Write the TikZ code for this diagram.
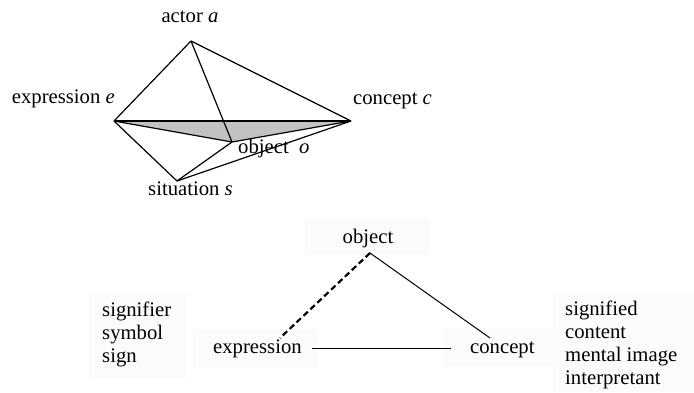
\documentclass[tikz,border=0pt]{standalone}
\usepackage{fontspec}
\setmainfont{Liberation Serif}
\begin{document}
\begin{tikzpicture}[x=1pt,y=-1pt,
  lbl/.style={inner sep=0pt,font=\fontsize{20.7}{23}\selectfont},
  edge/.style={line width=1.2pt,line join=miter},
  faint/.style={fill=black!1.5,draw=none},
  thin/.style={line width=1pt}]
\useasboundingbox (0,0) rectangle (694,392);
% top tetrahedron
\coordinate (A) at (191,41);
\coordinate (E) at (114,121);
\coordinate (C) at (351,121);
\coordinate (O) at (232,142);
\coordinate (S) at (177,181);
\fill[black!24] (E) -- (C) -- (O) -- cycle;
\draw[edge] (E) -- (C);
\draw[edge] (E) -- (O);
\draw[edge] (O) -- (C);
\draw[edge] (A) -- (E);
\draw[edge] (A) -- (C);
\draw[edge] (A) -- (O);
\draw[edge] (E) -- (S);
\draw[edge] (S) -- (O);
\draw[edge] (S) -- (C);
\node[lbl,anchor=base] (la) at (190,22) {actor \textit{a}};
\node[lbl,anchor=base east] (le) at (115,103) {expression \textit{e}};
\node[lbl,anchor=base west] (lc) at (353,104) {concept \textit{c}};
\node[lbl,anchor=base west] (lo) at (238,153) {object\ \ \textit{o}};
\node[lbl,anchor=base west] (ls) at (148,195) {situation \textit{s}};
% bottom triangle
\fill[faint] (305,219) rectangle (430,255);
\fill[faint] (89,293) rectangle (187,378);
\fill[faint] (193,329) rectangle (318,368);
\fill[faint] (443,328) rectangle (553,367);
\fill[faint] (553,293) rectangle (694,392);
\node[lbl,anchor=base] (bo) at (368,243) {object};
\node[lbl,anchor=base west] (bx) at (213,353) {expression};
\node[lbl,anchor=base west] (bc) at (470,353) {concept};
\node[lbl,anchor=base west] (sf) at (102,316) {signifier};
\node[lbl,anchor=base west] (sy) at (102,339) {symbol};
\node[lbl,anchor=base west] (sg) at (102,362) {sign};
\node[lbl,anchor=base west] (sd) at (565,315) {signified};
\node[lbl,anchor=base west] (ct) at (565,338) {content};
\node[lbl,anchor=base west] (mi) at (565,361) {mental image};
\node[lbl,anchor=base west] (ip) at (565,384) {interpretant};
\coordinate (P) at (370,253);
\coordinate (PX) at (280,338);
\coordinate (PC) at (490,338);
\coordinate (HX) at (312,348);
\coordinate (HC) at (451,348);
\draw[line width=2.2pt,dash pattern=on 6pt off 3.5pt] (P) -- (PX);
\draw[thin] (P) -- (PC);
\draw[thin] (HX) -- (HC);
\end{tikzpicture}
\end{document}
